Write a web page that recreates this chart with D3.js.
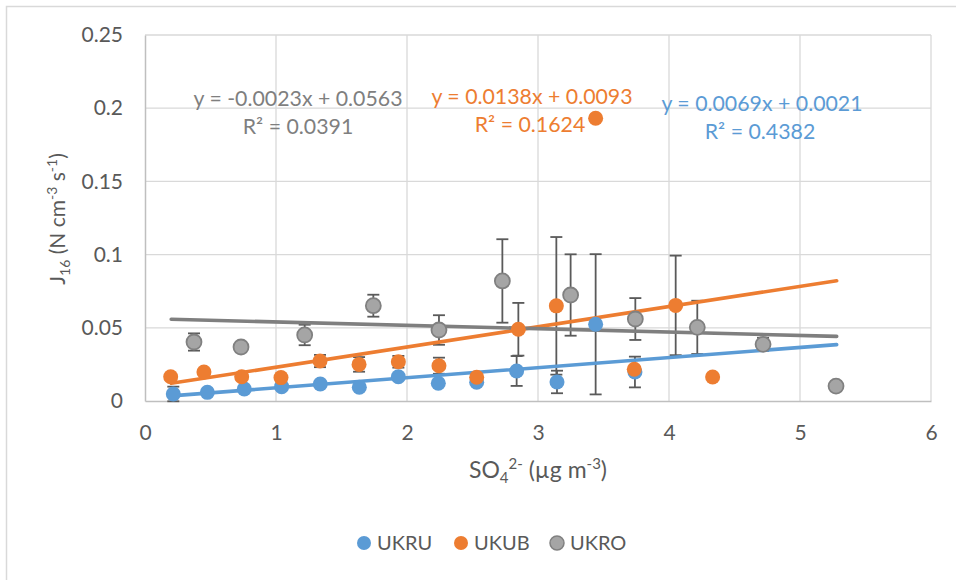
<!DOCTYPE html>
<html>
<head>
<meta charset="utf-8">
<script src="https://cdn.jsdelivr.net/npm/d3@7/dist/d3.min.js"></script>
<style>
  html, body { margin: 0; padding: 0; background: #fff; }
  svg { display: block; font-family: Lato, "Open Sans", sans-serif; }
</style>
</head>
<body>
<svg id="chart" width="956" height="580"></svg>
<script>
// Nucleation rate J16 against sulfate concentration, three site groups
const seriesNames = ["UKRU", "UKUB", "UKRO"];
const seriesColors = ["#5B9BD5", "#ED7D31", "#A5A5A5"];
const trendColors = ["#5B9BD5", "#ED7D31", "#7F7F7F"];

const ukruX   = [0.216, 0.476, 0.758, 1.043, 1.338, 1.636, 1.934, 2.239, 2.532, 2.837, 3.145, 3.44, 3.74];
const ukruY   = [0.0048, 0.0059, 0.0082, 0.0098, 0.0116, 0.0094, 0.0166, 0.0121, 0.0128, 0.0205, 0.013, 0.0524, 0.0198];
const ukruErr = [0.005, 0, 0, 0, 0, 0, 0, 0, 0, 0.0102, 0.0077, 0.0479, 0.0105];

const ukubX   = [0.196, 0.45, 0.738, 1.038, 1.336, 1.634, 1.934, 2.244, 2.532, 2.85, 3.14, 3.44, 3.735, 4.051, 4.333];
const ukubY   = [0.0166, 0.0198, 0.0166, 0.016, 0.0273, 0.025, 0.0268, 0.0241, 0.0162, 0.049, 0.065, 0.1931, 0.0217, 0.0653, 0.0164];
const ukubErr = [0, 0, 0, 0, 0.0042, 0.005, 0.004, 0.0055, 0, 0.018, 0.047, 0, 0, 0.034, 0];

const ukroX   = [0.374, 0.733, 1.219, 1.743, 2.244, 2.728, 3.249, 3.743, 4.216, 4.718, 5.275];
const ukroY   = [0.0403, 0.0369, 0.0451, 0.0651, 0.0485, 0.082, 0.0724, 0.056, 0.0503, 0.0387, 0.0102];
const ukroErr = [0.0059, 0, 0.007, 0.0075, 0.0101, 0.0285, 0.0278, 0.0143, 0.0182, 0.0045, 0];

// Linear fits (slope, intercept, R²) and the x span they are drawn over
const trendSlope     = [0.0069, 0.0138, -0.0023];
const trendIntercept = [0.0021, 0.0093, 0.0563];
const trendR2        = ["0.4382", "0.1624", "0.0391"];
const trendXRange    = [0.2, 5.28];

const xTicks = [0, 1, 2, 3, 4, 5, 6];
const yTicks = [0, 0.05, 0.1, 0.15, 0.2, 0.25];
const yTickLabels = ["0", "0.05", "0.1", "0.15", "0.2", "0.25"];

const series = [
  { x: ukruX, y: ukruY, err: ukruErr },
  { x: ukubX, y: ukubY, err: ukubErr },
  { x: ukroX, y: ukroY, err: ukroErr }
].map((s, i) => ({
  name: seriesNames[i],
  color: seriesColors[i],
  trendColor: trendColors[i],
  slope: trendSlope[i],
  intercept: trendIntercept[i],
  r2: trendR2[i],
  points: s.x.map((xv, j) => ({ x: xv, y: s.y[j], e: s.err[j] }))
}));

const svg = d3.select("#chart");
const plot = { left: 145, right: 931, top: 35, bottom: 401 };

const x = d3.scaleLinear().domain([0, 6]).range([plot.left, plot.right]);
const y = d3.scaleLinear().domain([0, 0.25]).range([plot.bottom, plot.top]);

// Outer chart frame
svg.append("rect")
  .attr("x", 6.5).attr("y", 6.5)
  .attr("width", 1200).attr("height", 1200)
  .attr("fill", "none").attr("stroke", "#d9d9d9").attr("stroke-width", 1.5);

// Gridlines
const grid = svg.append("g").attr("stroke", "#d9d9d9").attr("stroke-width", 1.3);
grid.selectAll("line.h").data(yTicks.slice(1)).join("line")
  .attr("x1", plot.left).attr("x2", plot.right)
  .attr("y1", d => y(d)).attr("y2", d => y(d));
grid.selectAll("line.v").data(xTicks.slice(1)).join("line")
  .attr("y1", plot.top).attr("y2", plot.bottom)
  .attr("x1", d => x(d)).attr("x2", d => x(d));

// Axes
const xAxis = svg.append("g")
  .attr("transform", `translate(0,${plot.bottom})`)
  .call(d3.axisBottom(x).tickValues(xTicks).tickFormat(d3.format("d")).tickSize(0).tickPadding(24));
const yAxis = svg.append("g")
  .attr("transform", `translate(${plot.left},0)`)
  .call(d3.axisLeft(y).tickValues(yTicks).tickFormat((d, i) => yTickLabels[i]).tickSize(0).tickPadding(22));
[xAxis, yAxis].forEach(a => {
  a.select(".domain").attr("stroke", "#bfbfbf").attr("stroke-width", 1.5);
  a.selectAll("text").attr("fill", "#595959").style("font-size", "21px")
    .style("font-family", "Lato, 'Open Sans', sans-serif");
});

// Axis titles
const xTitle = svg.append("text")
  .attr("x", 538).attr("y", 478)
  .attr("text-anchor", "middle").attr("fill", "#595959").style("font-size", "23px");
xTitle.append("tspan").text("SO");
xTitle.append("tspan").attr("dy", 5).style("font-size", "15px").text("4");
xTitle.append("tspan").attr("dy", -14).style("font-size", "15px").text("2-");
xTitle.append("tspan").attr("dy", 9).text(" (µg m");
xTitle.append("tspan").attr("dy", -9).style("font-size", "15px").text("-3");
xTitle.append("tspan").attr("dy", 9).text(")");

const yTitle = svg.append("text")
  .attr("transform", "translate(65,219) rotate(-90)")
  .attr("text-anchor", "middle").attr("fill", "#595959").style("font-size", "21px");
yTitle.append("tspan").text("J");
yTitle.append("tspan").attr("dy", 5).style("font-size", "14px").text("16");
yTitle.append("tspan").attr("dy", -5).text(" (N cm");
yTitle.append("tspan").attr("dy", -8).style("font-size", "14px").text("-3");
yTitle.append("tspan").attr("dy", 8).text(" s");
yTitle.append("tspan").attr("dy", -8).style("font-size", "14px").text("-1");
yTitle.append("tspan").attr("dy", 8).text(")");

// Error bars
const errG = svg.append("g").attr("stroke", "#5a5a5a").attr("stroke-width", 1.8);
series.forEach(s => {
  const pts = s.points.filter(p => p.e > 0);
  const g = errG.append("g");
  g.selectAll("line.bar").data(pts).join("line")
    .attr("x1", d => x(d.x)).attr("x2", d => x(d.x))
    .attr("y1", d => y(d.y - d.e)).attr("y2", d => y(d.y + d.e));
  g.selectAll("line.lo").data(pts).join("line")
    .attr("x1", d => x(d.x) - 6).attr("x2", d => x(d.x) + 6)
    .attr("y1", d => y(d.y - d.e)).attr("y2", d => y(d.y - d.e));
  g.selectAll("line.hi").data(pts).join("line")
    .attr("x1", d => x(d.x) - 6).attr("x2", d => x(d.x) + 6)
    .attr("y1", d => y(d.y + d.e)).attr("y2", d => y(d.y + d.e));
});

// Trend lines
series.forEach(s => {
  const ends = trendXRange.map(xv => ({ x: xv, y: s.slope * xv + s.intercept }));
  svg.append("path")
    .datum(ends)
    .attr("d", d3.line().x(d => x(d.x)).y(d => y(d.y)))
    .attr("fill", "none").attr("stroke", s.trendColor).attr("stroke-width", 3.6)
    .attr("stroke-linecap", "round");
});

// Markers
series.forEach((s, i) => {
  svg.append("g").selectAll("circle").data(s.points).join("circle")
    .attr("cx", d => x(d.x)).attr("cy", d => y(d.y)).attr("r", 7.5)
    .attr("fill", s.color)
    .attr("stroke", i === 2 ? "#808080" : "none").attr("stroke-width", 1.8);
});

// Trend equations
const labelPos = [[762, 111, 760, 139], [532, 104, 530, 132], [298, 106, 298, 134]];
series.forEach((s, i) => {
  const [ex, ey, rx, ry] = labelPos[i];
  const fmtSign = s.intercept >= 0 ? "+" : "-";
  svg.append("text").attr("x", ex).attr("y", ey).attr("text-anchor", "middle")
    .attr("fill", s.trendColor).style("font-size", "21.3px")
    .text(`y = ${s.slope.toFixed(4)}x ${fmtSign} ${Math.abs(s.intercept).toFixed(4)}`);
  svg.append("text").attr("x", rx).attr("y", ry).attr("text-anchor", "middle")
    .attr("fill", s.trendColor).style("font-size", "21.3px")
    .text(`R² = ${s.r2}`);
});

// Legend
const legendX = [364, 461, 557];
const legend = svg.append("g");
series.forEach((s, i) => {
  legend.append("circle").attr("cx", legendX[i]).attr("cy", 543).attr("r", 7)
    .attr("fill", s.color).attr("stroke", i === 2 ? "#808080" : "none").attr("stroke-width", 1.5);
  legend.append("text").attr("x", legendX[i] + 13).attr("y", 550)
    .attr("fill", "#595959").style("font-size", "20px").text(s.name);
});
</script>
</body>
</html>
